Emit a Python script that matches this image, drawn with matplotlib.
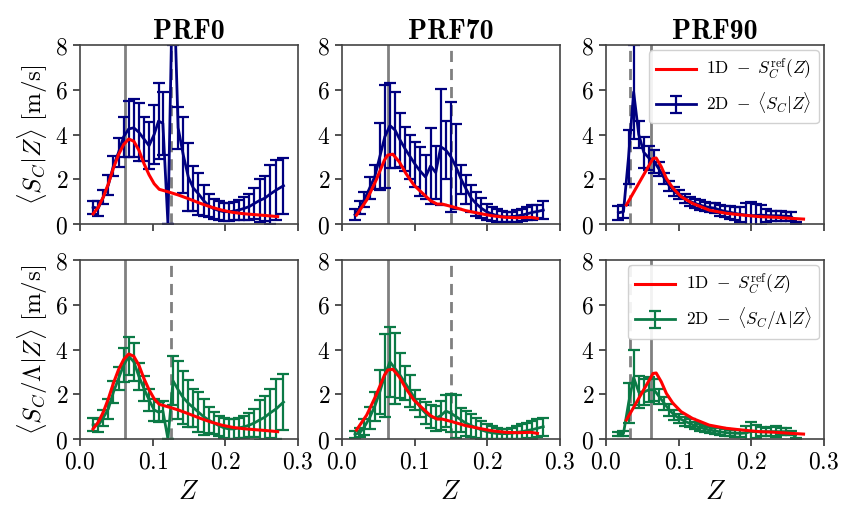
import os
import matplotlib
matplotlib.use('Agg')
import matplotlib.pyplot as plt
from matplotlib.font_manager import FontProperties
from matplotlib.ticker import FormatStrFormatter

plt.rcParams['mathtext.fontset'] = 'cm'
plt.rcParams['font.family'] = 'serif'
plt.rcParams['font.serif'] = ['DejaVu Serif']

cases = ['PRF0', 'PRF70', 'PRF90']

# vertical reference lines (solid, dashed) per case
z_solid = [0.0616, 0.063, 0.0624]
z_dashed = [0.125, 0.150, 0.033]

# ---- PRF0 ----
z_prf0 = [0.018, 0.025, 0.032, 0.039, 0.046, 0.053, 0.060, 0.067, 0.074, 0.081,
          0.088, 0.095, 0.102, 0.108, 0.114, 0.121, 0.128, 0.135, 0.142, 0.149,
          0.156, 0.163, 0.170, 0.177, 0.184, 0.191, 0.198, 0.205, 0.212, 0.219,
          0.226, 0.233, 0.240, 0.247, 0.254, 0.261, 0.270, 0.280]
sc_prf0 = [0.75, 0.7, 1.2, 1.75, 2.6, 3.2, 3.9, 4.25, 4.3, 4.1,
           3.8, 3.5, 4.0, 4.6, 4.5, 0.0, 12.0, 4.3, 3.1, 2.1,
           1.6, 1.35, 1.05, 0.82, 0.68, 0.6, 0.55, 0.55, 0.58, 0.63,
           0.7, 0.78, 0.92, 1.05, 1.15, 1.32, 1.52, 1.71]
sc_err_prf0 = [0.3, 0.35, 0.3, 0.45, 0.45, 0.65, 0.9, 1.25, 1.3, 1.3,
               1.0, 1.05, 1.3, 1.7, 1.4, 0.0, 4.0, 0.95, 1.7, 1.5,
               1.0, 0.95, 0.7, 0.5, 0.45, 0.42, 0.4, 0.4, 0.42, 0.45,
               0.5, 0.58, 0.7, 0.95, 1.0, 1.3, 1.35, 1.25]
scl_prf0 = [0.65, 0.6, 0.95, 1.35, 2.1, 2.7, 3.3, 3.7, 3.45, 2.8,
            2.25, 1.75, 1.3, 1.2, 1.25, 0.0, 2.6, 2.2, 1.85, 1.6,
            1.4, 1.2, 1.0, 0.85, 0.72, 0.6, 0.5, 0.45, 0.45, 0.5,
            0.55, 0.62, 0.72, 0.85, 0.97, 1.15, 1.35, 1.65]
scl_err_prf0 = [0.3, 0.3, 0.35, 0.45, 0.5, 0.5, 0.75, 0.85, 0.85, 0.6,
                0.55, 0.5, 0.5, 0.45, 0.45, 0.0, 1.1, 1.3, 1.2, 1.05,
                0.85, 0.9, 0.8, 0.6, 0.5, 0.45, 0.45, 0.45, 0.45, 0.45,
                0.5, 0.55, 0.62, 0.9, 0.95, 1.1, 1.35, 1.25]
z_ref_prf0 = [0.018, 0.025, 0.032, 0.039, 0.046, 0.053, 0.060, 0.067, 0.074,
              0.081, 0.088, 0.095, 0.102, 0.109, 0.120, 0.135, 0.150, 0.165,
              0.180, 0.195, 0.210, 0.225, 0.240, 0.255, 0.272]
ref_prf0 = [0.45, 0.75, 1.2, 1.8, 2.5, 3.1, 3.55, 3.8, 3.7,
            3.3, 2.7, 2.2, 1.8, 1.55, 1.45, 1.3, 1.12, 0.93,
            0.76, 0.62, 0.52, 0.46, 0.42, 0.38, 0.33]

# ---- PRF70 ----
z_prf70 = [0.018, 0.025, 0.031, 0.038, 0.045, 0.052, 0.059, 0.066, 0.073, 0.080,
           0.087, 0.094, 0.101, 0.108, 0.115, 0.122, 0.129, 0.136, 0.143, 0.150,
           0.157, 0.164, 0.171, 0.178, 0.185, 0.192, 0.199, 0.206, 0.213, 0.220,
           0.227, 0.234, 0.241, 0.248, 0.255, 0.262, 0.269, 0.277]
sc_prf70 = [0.42, 0.75, 1.1, 1.6, 2.1, 3.0, 3.9, 4.4, 4.2, 3.75,
            3.35, 3.0, 2.65, 2.35, 2.1, 2.6, 2.3, 3.45, 3.3, 3.0,
            2.55, 2.0, 1.55, 1.15, 0.9, 0.7, 0.55, 0.45, 0.38, 0.33,
            0.32, 0.33, 0.36, 0.4, 0.46, 0.52, 0.56, 0.62]
sc_err_prf70 = [0.25, 0.3, 0.35, 0.5, 0.55, 1.5, 2.3, 1.9, 1.7, 1.2,
                1.0, 1.0, 1.0, 1.1, 1.0, 1.7, 1.2, 2.6, 1.3, 2.45,
                1.9, 0.65, 0.65, 0.6, 0.55, 0.45, 0.35, 0.3, 0.3, 0.25,
                0.22, 0.22, 0.25, 0.28, 0.3, 0.35, 0.3, 0.4]
scl_prf70 = [0.2, 0.3, 0.55, 0.95, 1.45, 2.1, 2.85, 3.45, 3.15, 2.85,
             2.5, 2.15, 1.75, 1.4, 1.15, 1.0, 0.92, 1.05, 1.25, 1.15,
             1.0, 0.85, 0.7, 0.6, 0.5, 0.4, 0.33, 0.28, 0.25, 0.24,
             0.24, 0.26, 0.3, 0.33, 0.38, 0.42, 0.48, 0.55]
scl_err_prf70 = [0.15, 0.2, 0.35, 0.5, 0.65, 1.0, 1.85, 1.55, 1.6, 1.0,
                 0.75, 0.7, 0.45, 0.4, 0.5, 0.5, 0.55, 0.65, 0.7, 0.85,
                 0.95, 0.55, 0.55, 0.5, 0.45, 0.4, 0.35, 0.3, 0.25, 0.22,
                 0.22, 0.25, 0.3, 0.35, 0.35, 0.4, 0.4, 0.4]
z_ref_prf70 = [0.020, 0.034, 0.047, 0.0585, 0.063, 0.070, 0.079, 0.088, 0.099,
               0.111, 0.122, 0.131, 0.138, 0.152, 0.170, 0.188, 0.206, 0.224,
               0.242, 0.260, 0.269]
ref_prf70 = [0.4, 1.07, 1.96, 2.86, 3.08, 3.12, 2.77, 2.26, 1.74,
             1.37, 1.04, 0.89, 0.89, 0.77, 0.6, 0.48, 0.37, 0.3,
             0.28, 0.3, 0.25]

# ---- PRF90 ----
z_prf90 = [0.017, 0.024, 0.031, 0.038, 0.045, 0.052, 0.059, 0.066, 0.073, 0.080,
           0.087, 0.094, 0.101, 0.108, 0.115, 0.122, 0.129, 0.136, 0.143, 0.150,
           0.157, 0.164, 0.171, 0.178, 0.185, 0.192, 0.199, 0.206, 0.213, 0.220,
           0.227, 0.234, 0.241, 0.248, 0.255, 0.262]
sc_prf90 = [0.5, 0.55, 3.0, 5.9, 4.0, 3.2, 2.95, 2.8, 2.45, 2.05,
            1.7, 1.45, 1.3, 1.15, 1.02, 0.93, 0.85, 0.78, 0.74, 0.7,
            0.62, 0.56, 0.52, 0.47, 0.43, 0.4, 0.37, 0.38, 0.4, 0.38,
            0.37, 0.37, 0.36, 0.35, 0.33, 0.05]
sc_err_prf90 = [0.3, 0.3, 1.2, 2.1, 0.6, 0.7, 0.55, 0.5, 0.3, 0.25,
                0.22, 0.2, 0.2, 0.2, 0.2, 0.2, 0.22, 0.2, 0.22, 0.22,
                0.25, 0.25, 0.28, 0.3, 0.35, 0.55, 0.6, 0.5, 0.45, 0.3,
                0.22, 0.22, 0.22, 0.2, 0.2, 0.05]
scl_prf90 = [0.22, 0.25, 1.6, 2.75, 2.1, 2.1, 2.2, 2.2, 1.9, 1.6,
             1.3, 1.07, 0.92, 0.8, 0.7, 0.6, 0.52, 0.45, 0.4, 0.36,
             0.32, 0.29, 0.27, 0.26, 0.25, 0.27, 0.33, 0.33, 0.32, 0.33,
             0.33, 0.33, 0.33, 0.33, 0.28, 0.03]
scl_err_prf90 = [0.1, 0.12, 0.9, 1.25, 0.7, 0.6, 0.55, 0.5, 0.35, 0.3,
                 0.25, 0.22, 0.2, 0.2, 0.18, 0.15, 0.15, 0.15, 0.15, 0.15,
                 0.15, 0.15, 0.15, 0.15, 0.15, 0.3, 0.42, 0.3, 0.2, 0.18,
                 0.2, 0.25, 0.15, 0.15, 0.1, 0.03]
z_ref_prf90 = [0.028, 0.0647, 0.069, 0.076, 0.083, 0.092, 0.1034, 0.119, 0.142,
               0.165, 0.1876, 0.2104, 0.233, 0.256, 0.2718]
ref_prf90 = [0.85, 2.93, 2.95, 2.56, 2.04, 1.6, 1.22, 0.92, 0.62,
             0.48, 0.40, 0.33, 0.3, 0.25, 0.22]

z_2d = [z_prf0, z_prf70, z_prf90]
sc_2d = [sc_prf0, sc_prf70, sc_prf90]
sc_err_2d = [sc_err_prf0, sc_err_prf70, sc_err_prf90]
scl_2d = [scl_prf0, scl_prf70, scl_prf90]
scl_err_2d = [scl_err_prf0, scl_err_prf70, scl_err_prf90]
z_ref = [z_ref_prf0, z_ref_prf70, z_ref_prf90]
sc_ref = [ref_prf0, ref_prf70, ref_prf90]

BLUE = '#000080'
GREEN = '#0b7a46'

# Computer Modern bold, shipped with matplotlib
cm_bold_path = os.path.join(matplotlib.get_data_path(), 'fonts', 'ttf', 'cmb10.ttf')
if os.path.exists(cm_bold_path):
    title_font = FontProperties(fname=cm_bold_path, size=20)
else:
    title_font = FontProperties(family='serif', weight='bold', size=18)


def draw_panel(ax, i, mean, err, color, label_2d, with_legend):
    ax.axvline(z_solid[i], color='gray', lw=2, zorder=1)
    ax.axvline(z_dashed[i], color='gray', lw=2, ls=(0, (4, 2.5)), zorder=1)
    ax.plot(z_ref[i], sc_ref[i], color='red', lw=2.2, zorder=3,
            label=r'$\mathrm{1D}\ -\ S_C^{\mathrm{ref}}(Z)$')
    ax.errorbar(z_2d[i], mean, yerr=err, color=color, lw=2, elinewidth=1.6,
                capsize=4.5, capthick=1.6, zorder=2, label=label_2d)
    ax.set_xlim(0, 0.3)
    ax.set_ylim(0, 8)
    ax.set_xticks([0.0, 0.1, 0.2, 0.3])
    ax.set_yticks([0, 2, 4, 6, 8])
    ax.xaxis.set_major_formatter(FormatStrFormatter('$%.1f$'))
    ax.yaxis.set_major_formatter(FormatStrFormatter('$%d$'))
    ax.tick_params(labelsize=17, length=5, width=1.2, color='#333333')
    for s in ax.spines.values():
        s.set_color('#444444')
        s.set_linewidth(1.2)
    if with_legend:
        ax.legend(loc='upper right', fontsize=12.5, handlelength=2.3,
                  handletextpad=0.6, borderaxespad=0.3, framealpha=0.9,
                  edgecolor='#cccccc')


def main():
    fig = plt.figure(figsize=(8.45, 5.14), dpi=100)
    lefts = [0.0947, 0.4047, 0.7172]
    w, h = 0.258, 0.3482
    for i in range(3):
        ax_top = fig.add_axes([lefts[i], 0.5642, w, h])
        ax_bot = fig.add_axes([lefts[i], 0.1459, w, h])

        draw_panel(ax_top, i, sc_2d[i], sc_err_2d[i], BLUE,
                   r'$\mathrm{2D}\ -\ \langle S_C|Z\rangle$', i == 2)
        draw_panel(ax_bot, i, scl_2d[i], scl_err_2d[i], GREEN,
                   r'$\mathrm{2D}\ -\ \langle S_C/\Lambda|Z\rangle$', i == 2)

        ax_top.set_xticklabels([])
        ax_top.set_title(cases[i], fontproperties=title_font, pad=3)
        ax_bot.set_xlabel(r'$Z$', fontsize=19, labelpad=4)
        if i == 0:
            ax_top.set_ylabel(r'$\langle S_C|Z\rangle\ [\mathrm{m/s}]$', fontsize=18, labelpad=4)
            ax_bot.set_ylabel(r'$\langle S_C/\Lambda|Z\rangle\ [\mathrm{m/s}]$', fontsize=18, labelpad=4)

    fig.savefig('out.png', dpi=100)


if __name__ == '__main__':
    main()
